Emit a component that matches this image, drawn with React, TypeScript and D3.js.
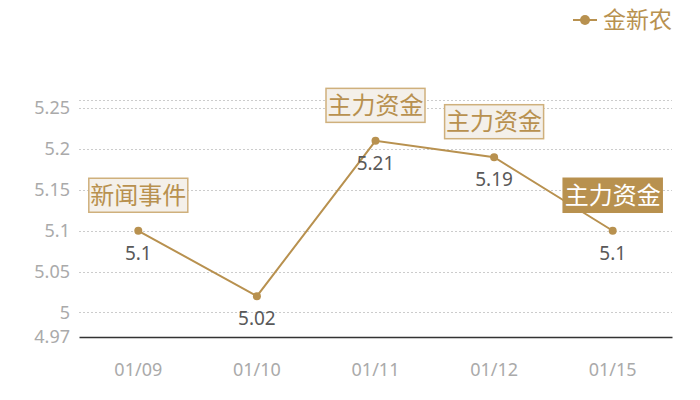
import { useEffect, useRef } from 'react';
import * as d3 from 'd3';

const dates = ['01/09', '01/10', '01/11', '01/12', '01/15'];
const prices = [5.1, 5.02, 5.21, 5.19, 5.1];
const events = ['新闻事件', '', '主力资金', '主力资金', '主力资金'];
const highlighted = [false, false, false, false, true];
const yTicks = [4.97, 5, 5.05, 5.1, 5.15, 5.2, 5.25];
const yMin = 4.97;
const yMax = 5.26;
const seriesName = '金新农';

const gold = '#b8914f';
const font = '"Noto Sans", "Noto Sans CJK SC", sans-serif';

export default function App() {
  const svgRef = useRef<SVGSVGElement>(null);

  useEffect(() => {
    if (!svgRef.current) return;

    const width = 700;
    const height = 400;
    const margin = { top: 100, right: 28, bottom: 63, left: 79 };
    const innerWidth = width - margin.left - margin.right;
    const innerHeight = height - margin.top - margin.bottom;

    d3.select(svgRef.current).selectAll('*').remove();

    const svg = d3
      .select(svgRef.current)
      .attr('viewBox', `0 0 ${width} ${height}`)
      .attr('width', width)
      .attr('height', height)
      .style('font-family', font);

    const g = svg
      .append('g')
      .attr('transform', `translate(${margin.left},${margin.top})`);

    const x = d3.scaleBand().domain(dates).range([0, innerWidth]);
    const y = d3.scaleLinear().domain([yMin, yMax]).range([innerHeight, 0]);
    const cx = (d: string) => (x(d) ?? 0) + x.bandwidth() / 2;

    // Dotted grid lines (including the top edge of the axis)
    const gridValues = [...yTicks.filter((t) => t !== yMin), yMax];
    g.selectAll('.grid')
      .data(gridValues)
      .join('line')
      .attr('class', 'grid')
      .attr('x1', 0)
      .attr('x2', innerWidth)
      .attr('y1', (d) => Math.round(y(d)) + 0.5)
      .attr('y2', (d) => Math.round(y(d)) + 0.5)
      .attr('stroke', '#cccccc')
      .attr('stroke-dasharray', '2,2');

    // Y axis labels
    const yAxis = g
      .append('g')
      .call(d3.axisLeft(y).tickValues(yTicks).tickSize(0).tickPadding(9).tickFormat((d) => String(d)));
    yAxis.select('.domain').remove();
    yAxis
      .selectAll('text')
      .attr('fill', '#aaaaaa')
      .style('font-size', '18px')
      .style('font-family', font);

    // X axis
    const xAxis = g
      .append('g')
      .attr('transform', `translate(0,${innerHeight})`)
      .call(d3.axisBottom(x).tickSize(0).tickPadding(26));
    xAxis.select('.domain').attr('stroke', '#333333').attr('stroke-width', 1.5);
    xAxis
      .selectAll('text')
      .attr('fill', '#aaaaaa')
      .style('font-size', '18px')
      .style('font-family', font);

    const points = dates.map((d, i) => ({ date: d, value: prices[i], event: events[i], hi: highlighted[i] }));

    // Price line
    const line = d3
      .line<{ date: string; value: number }>()
      .x((d) => cx(d.date))
      .y((d) => y(d.value));

    g.append('path')
      .datum(points)
      .attr('fill', 'none')
      .attr('stroke', gold)
      .attr('stroke-width', 2)
      .attr('d', line);

    g.selectAll('.dot')
      .data(points)
      .join('circle')
      .attr('class', 'dot')
      .attr('cx', (d) => cx(d.date))
      .attr('cy', (d) => y(d.value))
      .attr('r', 4)
      .attr('fill', gold);

    // Value labels
    g.selectAll('.value')
      .data(points)
      .join('text')
      .attr('class', 'value')
      .attr('x', (d) => cx(d.date))
      .attr('y', (d) => y(d.value) + 29)
      .attr('text-anchor', 'middle')
      .attr('fill', '#595959')
      .style('font-size', '19px')
      .text((d) => String(d.value));

    // Event boxes
    const boxW = 100;
    const boxH = 35;
    const ev = g
      .selectAll('.event')
      .data(points.filter((d) => d.event))
      .join('g')
      .attr('class', 'event')
      .attr('transform', (d) => `translate(${cx(d.date)},${y(d.value) - 18 - boxH})`);

    ev.append('rect')
      .attr('x', -boxW / 2 + 0.5)
      .attr('y', 0.5)
      .attr('width', boxW - 1)
      .attr('height', boxH - 1)
      .attr('fill', (d) => (d.hi ? gold : '#f4f0ea'))
      .attr('stroke', (d) => (d.hi ? gold : '#cfb07c'))
      .attr('stroke-width', 1.5);

    ev.append('text')
      .attr('x', 0)
      .attr('y', boxH / 2 + 8.5)
      .attr('text-anchor', 'middle')
      .attr('fill', (d) => (d.hi ? '#ffffff' : gold))
      .style('font-family', '"Noto Sans CJK SC", sans-serif')
      .style('font-size', '24px')
      .text((d) => d.event);

    // Legend
    const legend = svg.append('g').attr('transform', 'translate(573,20)');
    legend
      .append('line')
      .attr('x1', 0)
      .attr('x2', 24)
      .attr('stroke', gold)
      .attr('stroke-width', 2);
    legend.append('circle').attr('cx', 12).attr('r', 5).attr('fill', gold);
    legend
      .append('text')
      .attr('x', 30)
      .attr('y', 8)
      .attr('fill', gold)
      .style('font-family', '"Noto Sans CJK SC", sans-serif')
      .style('font-size', '23px')
      .text(seriesName);
  }, []);

  return (
    <svg
      ref={svgRef}
      style={{ position: 'absolute', left: 0, top: 0, background: '#ffffff' }}
    />
  );
}
